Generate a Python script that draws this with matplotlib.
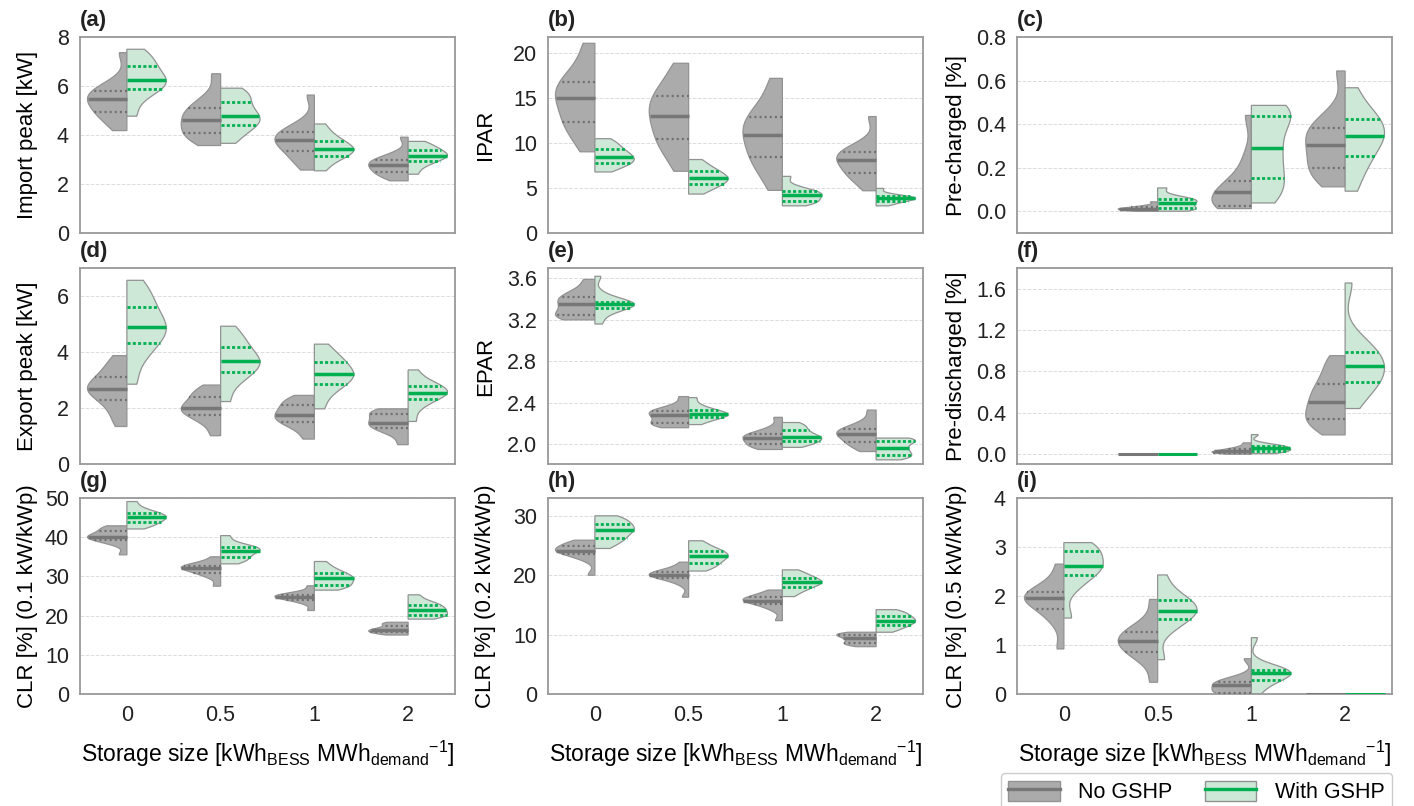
import numpy as np
import matplotlib
matplotlib.use('Agg')
import matplotlib.pyplot as plt
from matplotlib.patches import Patch
from matplotlib.lines import Line2D
from matplotlib.legend_handler import HandlerTuple

plt.rcParams['font.family'] = ['Liberation Sans', 'DejaVu Sans']
plt.rcParams['mathtext.fontset'] = 'custom'
plt.rcParams['mathtext.rm'] = 'Liberation Sans'
plt.rcParams['mathtext.it'] = 'Liberation Sans:italic'
plt.rcParams['mathtext.bf'] = 'Liberation Sans:bold'

storage_sizes = ['0', '0.5', '1', '2']
groups = ['No GSHP', 'With GSHP']

# Deciles (min, 10 %, ..., max) of each scenario, one list per storage size
import_peak_no = [
    [4.18, 4.6, 4.85, 5.01, 5.25, 5.45, 5.6, 5.72, 5.84, 6.2, 7.36],
    [3.57, 3.85, 4.0, 4.18, 4.42, 4.63, 4.82, 5.0, 5.22, 5.6, 6.5],
    [2.57, 2.95, 3.22, 3.44, 3.65, 3.8, 3.92, 4.04, 4.18, 4.5, 5.63],
    [2.13, 2.33, 2.42, 2.52, 2.68, 2.79, 2.86, 2.94, 3.04, 3.25, 3.91]]
import_peak_with = [
    [4.77, 5.45, 5.8, 5.98, 6.12, 6.26, 6.45, 6.7, 6.94, 7.2, 7.5],
    [3.66, 4.05, 4.3, 4.48, 4.64, 4.78, 4.98, 5.22, 5.5, 5.7, 5.91],
    [2.54, 2.9, 3.08, 3.24, 3.34, 3.43, 3.54, 3.68, 3.86, 4.08, 4.45],
    [2.4, 2.72, 2.88, 3.02, 3.1, 3.16, 3.24, 3.34, 3.46, 3.58, 3.74]]

ipar_no = [
    [9.03, 11.0, 12.0, 12.8, 14.1, 15.0, 15.6, 16.4, 17.2, 18.6, 21.1],
    [6.87, 9.0, 10.0, 11.0, 12.2, 13.06, 13.9, 14.8, 15.65, 16.9, 18.88],
    [4.74, 6.9, 7.9, 8.9, 10.0, 10.93, 11.7, 12.5, 13.3, 14.8, 17.2],
    [4.7, 6.0, 6.45, 6.9, 7.7, 8.17, 8.5, 8.85, 9.13, 10.0, 12.95]]
ipar_with = [
    [6.79, 7.35, 7.65, 7.95, 8.2, 8.47, 8.75, 9.1, 9.5, 9.95, 10.49],
    [4.33, 4.95, 5.3, 5.6, 5.9, 6.12, 6.38, 6.7, 7.05, 7.5, 8.17],
    [3.02, 3.3, 3.45, 3.65, 3.95, 4.22, 4.4, 4.55, 4.7, 5.2, 6.3],
    [3.02, 3.3, 3.48, 3.62, 3.75, 3.84, 3.92, 4.0, 4.12, 4.35, 4.96]]

precharged_no = [
    [],
    [0.0, 0.003, 0.006, 0.008, 0.010, 0.012, 0.014, 0.017, 0.021, 0.028, 0.043],
    [0.012, 0.016, 0.02, 0.03, 0.055, 0.086, 0.1, 0.12, 0.16, 0.25, 0.44],
    [0.112, 0.16, 0.185, 0.215, 0.265, 0.306, 0.34, 0.37, 0.39, 0.45, 0.644]]
precharged_with = [
    [],
    [0.0, 0.005, 0.01, 0.015, 0.028, 0.04, 0.046, 0.051, 0.057, 0.07, 0.107],
    [0.038, 0.08, 0.13, 0.175, 0.24, 0.292, 0.34, 0.42, 0.455, 0.47, 0.486],
    [0.092, 0.18, 0.23, 0.28, 0.32, 0.344, 0.37, 0.41, 0.435, 0.48, 0.567]]

export_peak_no = [
    [1.34, 1.8, 2.15, 2.45, 2.58, 2.67, 2.8, 3.0, 3.22, 3.5, 3.87],
    [1.01, 1.45, 1.65, 1.83, 1.92, 1.99, 2.1, 2.3, 2.46, 2.6, 2.82],
    [0.89, 1.25, 1.43, 1.55, 1.66, 1.75, 1.87, 2.02, 2.16, 2.28, 2.45],
    [0.69, 1.05, 1.22, 1.32, 1.41, 1.48, 1.6, 1.74, 1.84, 1.91, 1.97]]
export_peak_with = [
    [2.85, 3.75, 4.15, 4.5, 4.72, 4.88, 5.08, 5.4, 5.78, 6.1, 6.56],
    [2.23, 2.9, 3.15, 3.4, 3.55, 3.67, 3.8, 4.05, 4.3, 4.55, 4.92],
    [1.97, 2.5, 2.75, 2.97, 3.1, 3.2, 3.33, 3.55, 3.71, 3.92, 4.28],
    [1.52, 2.0, 2.22, 2.42, 2.48, 2.53, 2.62, 2.75, 2.85, 3.0, 3.36]]

epar_no = [
    [3.2, 3.22, 3.235, 3.26, 3.31, 3.35, 3.38, 3.41, 3.44, 3.49, 3.59],
    [2.16, 2.185, 2.195, 2.21, 2.25, 2.28, 2.3, 2.315, 2.33, 2.37, 2.46],
    [1.95, 1.97, 1.99, 2.01, 2.04, 2.06, 2.08, 2.09, 2.11, 2.16, 2.26],
    [1.93, 1.98, 2.01, 2.04, 2.08, 2.1, 2.12, 2.14, 2.16, 2.22, 2.33]]
epar_with = [
    [3.16, 3.25, 3.3, 3.33, 3.34, 3.35, 3.36, 3.365, 3.38, 3.45, 3.62],
    [2.19, 2.23, 2.25, 2.27, 2.28, 2.29, 2.305, 2.32, 2.34, 2.38, 2.45],
    [1.97, 2.0, 2.02, 2.04, 2.06, 2.07, 2.09, 2.12, 2.15, 2.18, 2.21],
    [1.85, 1.87, 1.89, 1.91, 1.94, 1.96, 1.99, 2.02, 2.04, 2.05, 2.06]]

predischarged_no = [
    [],
    [0.0, 0.0, 0.0, 0.0, 0.0],
    [0.0, 0.01, 0.013, 0.018, 0.025, 0.03, 0.038, 0.05, 0.058, 0.08, 0.11],
    [0.187, 0.28, 0.32, 0.36, 0.44, 0.504, 0.57, 0.64, 0.72, 0.84, 0.953]]
predischarged_with = [
    [],
    [0.0, 0.0, 0.0, 0.0, 0.0],
    [0.006, 0.02, 0.028, 0.033, 0.045, 0.058, 0.066, 0.075, 0.085, 0.1, 0.19],
    [0.442, 0.6, 0.67, 0.72, 0.79, 0.85, 0.9, 0.96, 1.02, 1.12, 1.655]]

clr01_no = [
    [35.5, 38.2, 39.0, 39.6, 39.9, 40.1, 40.4, 41.0, 42.0, 42.4, 42.9],
    [27.5, 29.8, 30.6, 31.3, 31.8, 32.1, 32.4, 32.6, 32.9, 33.6, 35.0],
    [21.3, 23.2, 23.8, 24.4, 24.6, 24.8, 25.0, 25.2, 25.4, 26.0, 27.6],
    [15.05, 15.4, 15.65, 15.95, 16.2, 16.4, 16.7, 17.1, 17.7, 18.0, 18.3]]
clr01_with = [
    [42.1, 43.0, 43.5, 44.1, 44.7, 45.1, 45.5, 45.9, 46.5, 47.4, 49.1],
    [33.2, 34.0, 34.6, 35.2, 36.0, 36.6, 36.9, 37.2, 37.6, 38.5, 40.4],
    [26.5, 27.2, 27.6, 28.2, 29.0, 29.5, 29.9, 30.5, 31.3, 32.2, 33.8],
    [19.1, 19.6, 20.0, 20.4, 21.0, 21.5, 22.0, 22.5, 23.1, 23.8, 25.3]]

clr02_no = [
    [20.0, 22.6, 23.3, 23.9, 24.0, 24.1, 24.3, 24.8, 25.2, 25.5, 25.9],
    [16.3, 18.5, 19.3, 19.8, 19.9, 20.0, 20.2, 20.4, 20.6, 21.2, 22.2],
    [12.35, 14.2, 14.8, 15.5, 15.6, 15.7, 15.9, 16.1, 16.5, 16.9, 17.5],
    [7.97, 8.3, 8.5, 8.7, 9.1, 9.37, 9.6, 9.9, 10.05, 10.2, 10.4]]
clr02_with = [
    [24.5, 25.5, 26.0, 26.6, 27.2, 27.6, 28.0, 28.4, 29.0, 29.5, 30.0],
    [20.7, 21.4, 21.8, 22.4, 22.8, 23.2, 23.5, 23.9, 24.3, 24.9, 25.8],
    [16.4, 17.3, 17.7, 18.3, 18.5, 18.8, 19.1, 19.4, 19.8, 20.3, 20.9],
    [10.4, 11.0, 11.4, 11.8, 12.1, 12.35, 12.7, 13.0, 13.4, 13.8, 14.2]]

clr05_no = [
    [0.92, 1.45, 1.65, 1.8, 1.9, 1.95, 2.0, 2.05, 2.1, 2.3, 2.65],
    [0.24, 0.68, 0.8, 0.92, 1.0, 1.08, 1.16, 1.24, 1.3, 1.5, 1.93],
    [0.0, 0.005, 0.012, 0.03, 0.12, 0.185, 0.21, 0.24, 0.26, 0.35, 0.72],
    [0.0, 0.0, 0.0, 0.0, 0.0]]
clr05_with = [
    [1.55, 2.15, 2.35, 2.5, 2.56, 2.62, 2.72, 2.85, 2.98, 3.04, 3.09],
    [0.7, 1.3, 1.45, 1.6, 1.65, 1.7, 1.78, 1.86, 1.96, 2.1, 2.43],
    [0.0, 0.18, 0.25, 0.33, 0.39, 0.42, 0.45, 0.48, 0.5, 0.58, 1.15],
    [0.0, 0.0, 0.0, 0.0, 0.0]]

# (letter, ylabel, no GSHP, with GSHP, ylim, yticks, tick format)
panels = [
    ('(a)', 'Import peak [kW]', import_peak_no, import_peak_with, (0, 8), [0, 2, 4, 6, 8], '{:.0f}'),
    ('(b)', 'IPAR', ipar_no, ipar_with, (0, 21.8), [0, 5, 10, 15, 20], '{:.0f}'),
    ('(c)', 'Pre-charged [%]', precharged_no, precharged_with, (-0.1, 0.8), [0.0, 0.2, 0.4, 0.6, 0.8], '{:.1f}'),
    ('(d)', 'Export peak [kW]', export_peak_no, export_peak_with, (0, 7.0), [0, 2, 4, 6], '{:.0f}'),
    ('(e)', 'EPAR', epar_no, epar_with, (1.81, 3.70), [2.0, 2.4, 2.8, 3.2, 3.6], '{:.1f}'),
    ('(f)', 'Pre-discharged [%]', predischarged_no, predischarged_with, (-0.094, 1.8), [0.0, 0.4, 0.8, 1.2, 1.6], '{:.1f}'),
    ('(g)', 'CLR [%] (0.1 kW/kWp)', clr01_no, clr01_with, (0, 50), [0, 10, 20, 30, 40, 50], '{:.0f}'),
    ('(h)', 'CLR [%] (0.2 kW/kWp)', clr02_no, clr02_with, (0, 33), [0, 10, 20, 30], '{:.0f}'),
    ('(i)', 'CLR [%] (0.5 kW/kWp)', clr05_no, clr05_with, (0, 4), [0, 1, 2, 3, 4], '{:.0f}'),
]

GREY_FILL = '#ababab'
GREEN_FILL = '#cde8d7'
EDGE = '#929292'
GREY_LINE = '#777777'
GREY_DOT = '#6f6f6f'
GREEN_LINE = '#00b050'
HALF = 0.42


def kde(values, grid, bw_adjust=0.75):
    n = len(values)
    bw = values.std(ddof=1) * n ** (-1 / 5) * bw_adjust
    z = (grid[:, None] - values[None, :]) / bw
    return np.exp(-0.5 * z ** 2).sum(axis=1)


def half_violin(ax, pos, values, sign, fill, line_col, dot_col, dot_lw, dot_style):
    values = np.asarray(values, dtype=float)
    if values.size == 0:
        return
    q1, med, q3 = np.percentile(values, [25, 50, 75])
    if values.std() == 0:
        ax.plot([pos, pos + sign * HALF], [med, med], color=line_col, lw=2.2,
                solid_capstyle='butt', zorder=4)
        return
    grid = np.linspace(values.min(), values.max(), 300)
    dens = kde(values, grid)
    w = dens / dens.max() * HALF
    xs = np.concatenate([[pos], pos + sign * w, [pos]])
    ys = np.concatenate([[grid[0]], grid, [grid[-1]]])
    ax.fill(xs, ys, facecolor=fill, edgecolor=EDGE, lw=0.9, zorder=2)
    for q in (q1, q3):
        wq = np.interp(q, grid, w)
        ax.plot([pos, pos + sign * wq], [q, q], color=dot_col, lw=dot_lw,
                linestyle=dot_style, zorder=3)
    wm = np.interp(med, grid, w)
    ax.plot([pos, pos + sign * wm], [med, med], color=line_col, lw=2.5,
            solid_capstyle='butt', zorder=4)


fig = plt.figure(figsize=(14.14, 8.06), dpi=100)
W, H = 1414, 806
lefts = [80, 548, 1017]
tops = [37, 268, 498]
aw, ah = 375, 196
# x position of the y label (axes fraction), same for every row of a column
label_x = [-0.112, -0.139, -0.134]

for k, (letter, ylabel, no_data, with_data, ylim, yticks, fmt) in enumerate(panels):
    r, c = divmod(k, 3)
    ax = fig.add_axes([lefts[c] / W, 1 - (tops[r] + ah) / H, aw / W, ah / H])
    for i in range(len(storage_sizes)):
        half_violin(ax, i, no_data[i], -1, GREY_FILL, GREY_LINE, GREY_DOT, 1.6, (0, (0.9, 1.4)))
        half_violin(ax, i, with_data[i], 1, GREEN_FILL, GREEN_LINE, GREEN_LINE, 2.0, (0, (1.1, 0.8)))
    ax.set_xlim(-0.5, 3.5)
    ax.set_ylim(*ylim)
    ax.set_yticks(yticks)
    ax.set_yticklabels([fmt.format(t) for t in yticks])
    ax.set_xticks(range(len(storage_sizes)))
    if r == 2:
        ax.set_xticklabels(storage_sizes)
        ax.set_xlabel(r'Storage size [kWh$_{\mathrm{BESS}}$ MWh$_{\mathrm{demand}}$$^{-1}$]',
                      fontsize=16.5, labelpad=9)
    else:
        ax.set_xticklabels([])
    ax.set_ylabel(ylabel, fontsize=16)
    ax.yaxis.set_label_coords(label_x[c], 0.5)
    ax.tick_params(axis='both', length=0, labelsize=15.5, pad=8, colors='#222222')
    ax.grid(axis='y', color='#dcdcdc', linestyle='--', lw=0.7)
    ax.set_axisbelow(True)
    for s in ax.spines.values():
        s.set_color('#999999')
        s.set_linewidth(1.3)
    ax.text(0, 1.03, letter, transform=ax.transAxes, ha='left', va='bottom',
            fontsize=16, fontweight='bold', color='#222222')

handles = [
    (Patch(facecolor=GREY_FILL, edgecolor=EDGE), Line2D([], [], color=GREY_LINE, lw=2.4)),
    (Patch(facecolor=GREEN_FILL, edgecolor=EDGE), Line2D([], [], color=GREEN_LINE, lw=2.4)),
]
fig.legend(handles, groups, handler_map={tuple: HandlerTuple(ndivide=1)},
           loc='upper right', bbox_to_anchor=(1392 / W, 1 - 773 / H), ncol=2,
           fontsize=15.5, handlelength=2.4, handleheight=1.1, handletextpad=0.85,
           columnspacing=1.5, borderpad=0.35, borderaxespad=0, edgecolor='#cccccc',
           framealpha=1)

fig.savefig('out.png', dpi=100)
